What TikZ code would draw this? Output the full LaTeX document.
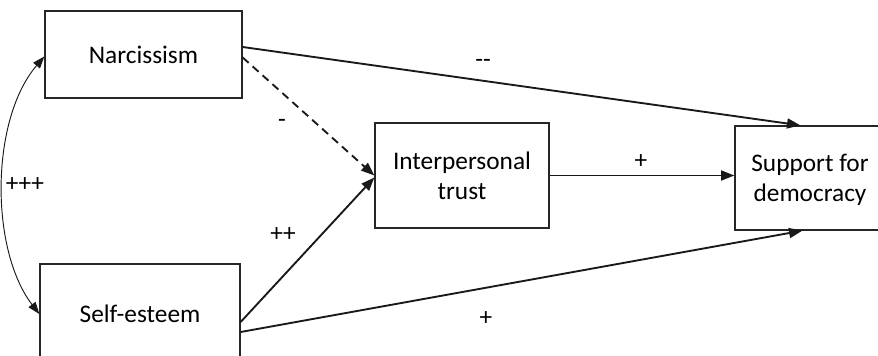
\documentclass[tikz,border=0pt]{standalone}
\usepackage{fontspec}
\setmainfont{Carlito}
\usetikzlibrary{arrows.meta,calc}
\tikzset{
  box/.style={draw=black!85,line width=1pt,rectangle,align=center,inner sep=0pt},
  path/.style={draw=black!90,line width=1.4pt,-{Triangle[length=10pt,width=7.5pt]}},
  corr/.style={draw=black!90,line width=0.7pt,{Triangle[length=9pt,width=6.5pt]}-{Triangle[length=9pt,width=6.5pt]}},
  lbl/.style={inner sep=0pt,align=center,font=\fontsize{19}{22.5}\selectfont}
}
\begin{document}
\begin{tikzpicture}[x=0.75pt,y=-0.75pt,font=\fontsize{19}{22.5}\selectfont]
\useasboundingbox (0,0) rectangle (878,356);
\clip (0,0) rectangle (878,356);
\node[box,minimum width=197*0.75pt,minimum height=87*0.75pt] (narc) at (143.5,54.5) {Narcissism};
\node[box,minimum width=200*0.75pt,minimum height=100*0.75pt] (self) at (140,314) {Self-esteem};
\node[box,minimum width=174*0.75pt,minimum height=105*0.75pt] (inter) at (462,175.5) {Interpersonal\\trust};
\node[box,minimum width=145*0.75pt,minimum height=104*0.75pt] (sup) at (807.5,178) {};
\node[lbl] (suptext) at (810,180) {Support for\\democracy};
% paths
\draw[path] ($(narc.east)+(0,-7.5)$) -- ($(sup.north west)+(66,0)$);
\draw[path,dash pattern=on 6pt off 4pt] ($(narc.east)+(0,3)$) -- ($(inter.west)+(0,0)$);
\draw[path] ($(self.east)+(0,8)$) -- ($(inter.west)+(0,2)$);
\draw[path] ($(self.east)+(0,18)$) -- ($(sup.south west)+(68,0)$);
\draw[path] (inter.east) -- (inter.east -| sup.west);
\draw[corr] ($(narc.west)+(0,2)$) .. controls (-10,120) and (-10,250) .. (self.west);
% labels
\node[lbl] (l1) at (483,63) {-{}-};
\node[lbl] (l2) at (282,123) {-};
\node[lbl] (l3) at (641,162) {+};
\node[lbl] (l4) at (283,235) {++};
\node[lbl] (l5) at (486,319) {+};
\node[lbl] (l6) at (25,185) {+++};
\end{tikzpicture}
\end{document}
